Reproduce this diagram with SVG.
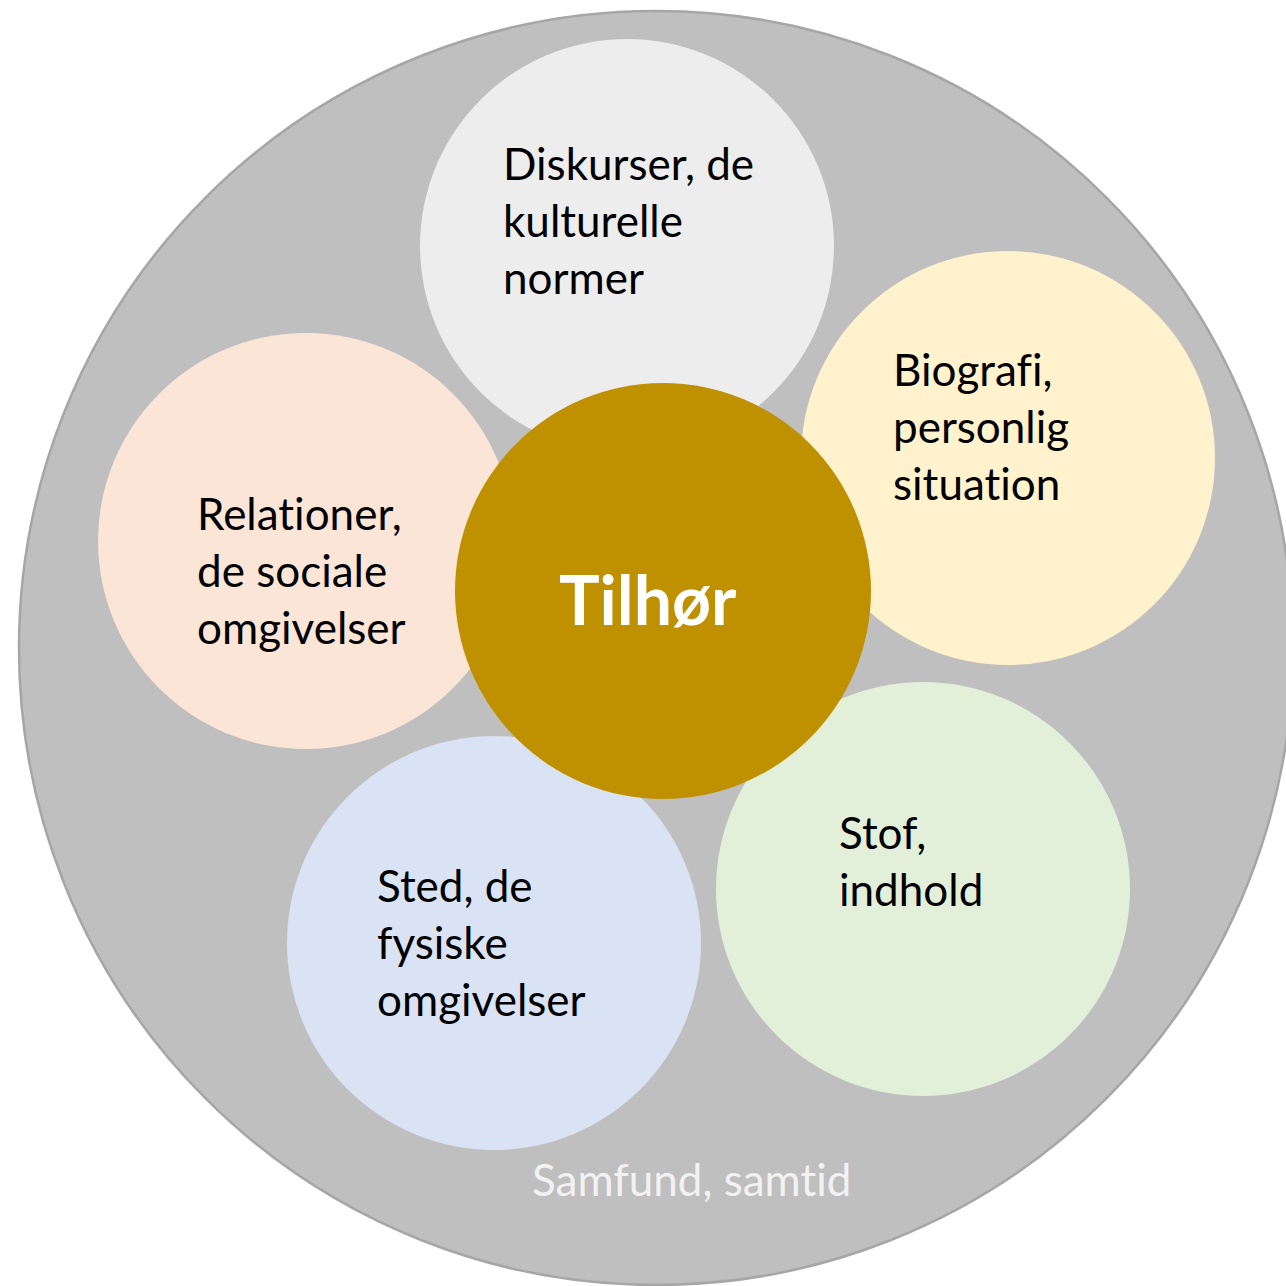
<svg xmlns="http://www.w3.org/2000/svg" width="1286" height="1286" viewBox="0 0 1286 1286">
<style>
text{font-family:Lato,"Open Sans","Liberation Sans",sans-serif;font-variant-ligatures:none;font-feature-settings:"liga" 0,"clig" 0}
.t{font-size:44px;fill:#000}
.c{stroke:none}
</style>
<rect width="1286" height="1286" fill="#fff"/>
<g id="samfund">
<circle cx="656" cy="648" r="637" fill="#BFBFBF" stroke="#A6A6A6" stroke-width="2.5"/>
<text x="532" y="1196" style="font-size:44px;fill:#F2F2F2">Samfund, samtid</text>
</g>
<g id="diskurser">
<circle class="c" cx="627" cy="246" r="207" fill="#EDEDED"/>
<text class="t" x="503" y="180">Diskurser, de</text>
<text class="t" x="503" y="237">kulturelle</text>
<text class="t" x="503" y="294">normer</text>
</g>
<g id="biografi">
<circle class="c" cx="1008" cy="458" r="207" fill="#FFF2CC"/>
<text class="t" x="893" y="386">Biografi,</text>
<text class="t" x="893" y="443">personlig</text>
<text class="t" x="893" y="500">situation</text>
</g>
<g id="relationer">
<circle class="c" cx="306" cy="541" r="208" fill="#FBE5D6"/>
<text class="t" x="197" y="530">Relationer,</text>
<text class="t" x="197" y="587">de sociale</text>
<text class="t" x="197" y="644">omgivelser</text>
</g>
<g id="stof">
<circle class="c" cx="923" cy="889" r="207" fill="#E2F0D9"/>
<text class="t" x="839" y="849">Stof,</text>
<text class="t" x="839" y="906">indhold</text>
</g>
<g id="sted">
<circle class="c" cx="494" cy="943" r="207" fill="#DAE3F3"/>
<text class="t" x="377" y="902">Sted, de</text>
<text class="t" x="377" y="959">fysiske</text>
<text class="t" x="377" y="1016">omgivelser</text>
</g>
<g id="tilhor">
<circle class="c" cx="663" cy="591" r="208" fill="#BF9000"/>
<text x="559" y="625" style="font-size:68px;font-weight:bold;fill:#fff">Tilhør</text>
</g>
<g id="connectors"/>
</svg>
